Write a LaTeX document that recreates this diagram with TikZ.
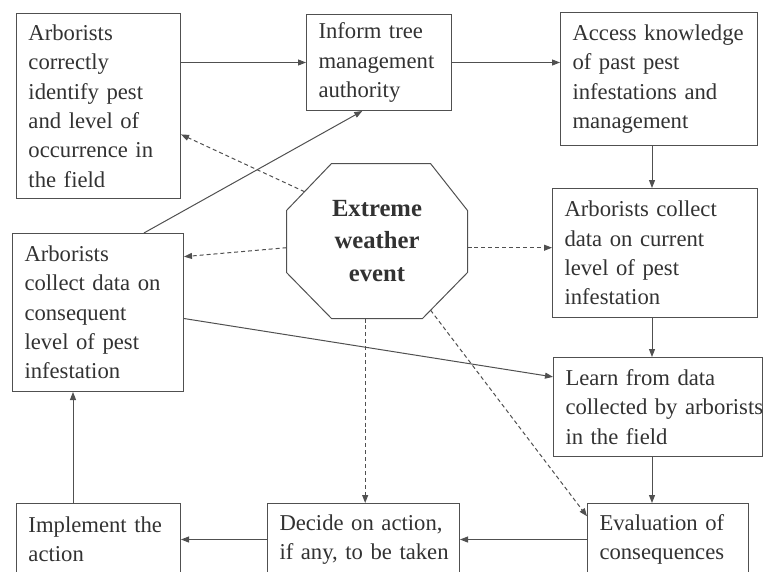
\documentclass[tikz,border=0pt]{standalone}
\usepackage{fontspec}
\setmainfont{Liberation Serif}
\usetikzlibrary{arrows.meta,calc}

\definecolor{ink}{RGB}{80,80,80}
\definecolor{txt}{RGB}{50,50,50}

\tikzset{every picture/.style={line width=0.75pt}}
\tikzset{
  box/.style={draw=ink, anchor=north west, align=left, inner xsep=9pt, inner ysep=0pt,
    text=txt, font=\fontsize{17}{22}\selectfont},
  octa/.style={minimum width=135pt, minimum height=115.5pt, inner sep=0pt, align=center,
    text=txt, font=\bfseries\fontsize{18.5}{24.5}\selectfont},
  arr/.style={draw=ink, -{Triangle[length=6pt,width=4.5pt]}},
  darr/.style={arr, dash pattern=on 3pt off 2.2pt}
}

\begin{document}
\begin{tikzpicture}[x=0.75pt,y=0.75pt,yscale=-1,xscale=1]
\useasboundingbox (0,0) rectangle (763,571);

%Boxes top row
\node[box, text width=105pt, minimum height=138.75pt] (ident) at (16,13) {Arborists\\correctly\\identify pest\\and level of\\occurrence in\\the field};
\node[box, text width=90.75pt, minimum height=72pt] (inf) at (306,14) {Inform tree\\management\\authority};
\node[box, text width=129.75pt, minimum height=99.75pt] (acc) at (560,12) {Access knowledge\\of past pest\\infestations and\\management};

%Boxes middle
\node[box, text width=135.75pt, minimum height=96.75pt] (cur) at (552,188) {Arborists collect\\data on current\\level of pest\\infestation};
\node[box, text width=110.25pt, minimum height=118.5pt] (cons) at (12,233) {Arborists\\collect data on\\consequent\\level of pest\\infestation};
\node[box, text width=138.75pt, minimum height=74.25pt] (learn) at (553,357) {Learn from data\\\mbox{collected by arborists}\\in the field};

%Boxes bottom row
\node[box, text width=105pt, minimum height=54pt] (imp) at (16,503) {Implement the\\action};
\node[box, text width=126pt, minimum height=54pt] (dec) at (267,503) {\mbox{Decide on action,}\\\mbox{if any, to be taken}};
\node[box, text width=102.75pt, minimum height=54pt] (eval) at (587,503) {Evaluation of\\consequences};

%Octagon
\node[octa] (ev) at (377,241) {Extreme\\weather\\event};
\draw[ink] ([xshift=33.75pt]ev.north west) coordinate (o1)
  -- ([xshift=-27.75pt]ev.north east) coordinate (o2)
  -- ([yshift=35.25pt]ev.north east) coordinate (o3)
  -- ([yshift=-34.5pt]ev.south east) coordinate (o4)
  -- ([xshift=-33.75pt]ev.south east) coordinate (o5)
  -- ([xshift=33.75pt]ev.south west) coordinate (o6)
  -- ([yshift=-34.5pt]ev.south west) coordinate (o7)
  -- ([yshift=35.25pt]ev.north west) coordinate (o8) -- cycle;

\coordinate (rcol) at (652,0);
\coordinate (lcol) at (73,0);

%Solid arrows
\draw[arr] (ident.east |- inf.west) -- (inf.west);
\draw[arr] (inf.east) -- (inf.east -| acc.west);
\draw[arr] (acc.south -| rcol) -- (cur.north -| rcol);
\draw[arr] (cur.south -| rcol) -- (learn.north -| rcol);
\draw[arr] (learn.south -| rcol) -- (eval.north -| rcol);
\draw[arr] (eval.west) -- (eval.west -| dec.east);
\draw[arr] (dec.west) -- (dec.west -| imp.east);
\draw[arr] (imp.north -| lcol) -- (cons.south -| lcol);
\draw[arr] (cons.60) -- (inf.-109);
\draw[arr] (cons.-4) -- (learn.164);

%Dashed arrows
\draw[darr] ($(o8)!0.4!(o1)$) -- (ident.-19);
\draw[darr] ($(o8)!0.6!(o7)$) -- (cons.33);
\draw[darr] ($(o3)!0.6!(o4)$) coordinate (cr) -- (cr -| cur.west);
\draw[darr] ($(o6)!0.37!(o5)$) coordinate (dc) -- (dc |- dec.north);
\draw[darr] ($(o5)!0.18!(o4)$) -- (eval.164);

\end{tikzpicture}
\end{document}
